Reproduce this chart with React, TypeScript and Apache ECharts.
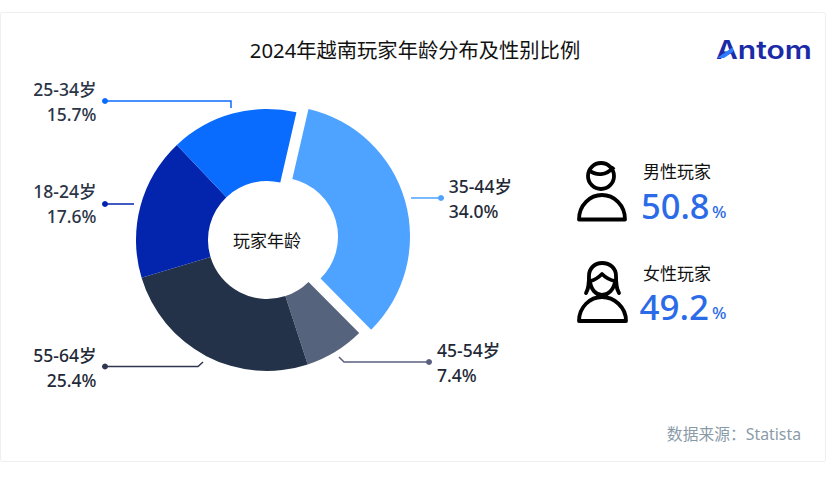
import React, { useEffect, useRef } from "react";
import * as echarts from "echarts";

const categories = ["35-44岁", "45-54岁", "55-64岁", "18-24岁", "25-34岁"];
const shares = [34.0, 7.4, 25.4, 17.6, 15.7];
const sliceColors = ["#4DA3FF", "#56637C", "#233249", "#0325AE", "#0A6CFF"];
const lineColors = ["#4DA3FF", "#5A5F80", "#30364F", "#0325AE", "#0A6CFF"];
const labelColors = ["#1F2937", "#1F2937", "#1F2937", "#2A3446", "#2A3446"];
const labelSpots = [
  { x: 449, y: 199, align: "left" },
  { x: 437, y: 362, align: "left" },
  { x: 96.5, y: 367, align: "right" },
  { x: 96.5, y: 203, align: "right" },
  { x: 96.5, y: 101, align: "right" },
];
const linePaths = [
  [[411, 198], [426, 198], [441, 198]],
  [[339, 357], [344, 362], [429, 362]],
  [[203, 362], [198, 366.5], [105, 366.5]],
  [[134, 204], [120, 204], [105, 204]],
  [[231, 108], [231, 101], [105, 101]],
];
const lineShift = [[-12, 3.4], [0, 0], [0, 0], [0, 0], [0, 0]];
const genderNames = ["男性玩家", "女性玩家"];
const genderShares = ["50.8", "49.2"];

const MALE_ICON =
  "M588 176a13 13 0 1 0 26 0a13 13 0 1 0 -26 0 M589 170C596 176 606 176 614 167 M579 219.5C579 205 590 195 602 195C614 195 625 205 625 219.5Z";
const FEMALE_ICON =
  "M586 293C589 288 589 283 589 276C589 268 595 263 602 263C610 263 616 268 616 276C616 283 616 288 619 293 M590 281C596 280 599 277 602 274C605 277 609 280 615 281 M590 281C591 290 596 295 602 295C608 295 614 290 615 281 M579 321C579 307 590 297 602 297C614 297 626 307 626 321Z";
const LOGO_ACCENT = "M717 58L733 47L733 52L724 58Z";

echarts.graphic.registerShape("maleIcon", echarts.graphic.extendPath(MALE_ICON, {}) as any);
echarts.graphic.registerShape("femaleIcon", echarts.graphic.extendPath(FEMALE_ICON, {}) as any);
echarts.graphic.registerShape("logoAccent", echarts.graphic.extendPath(LOGO_ACCENT, {}) as any);

const FONT = '"Noto Sans", "Noto Sans CJK SC", sans-serif';

export default function App() {
  const ref = useRef<HTMLDivElement>(null);
  useEffect(() => {
    const chart = echarts.init(ref.current!, null, { renderer: "svg" });
    const texts: any[] = [];
    genderNames.forEach((n, i) => {
      const top = i === 0 ? 0 : 102;
      texts.push({
        type: "text",
        style: { x: 643, y: 171 + top, text: n, font: `400 17px ${FONT}`, fill: "#111", textVerticalAlign: "middle" },
      });
      texts.push({
        type: "text",
        style: {
          x: i === 0 ? 641 : 639.5,
          y: 205 + top - (i === 0 ? 0 : 1),
          text: genderShares[i],
          font: `500 ${i === 0 ? 34.5 : 35}px ${FONT}`,
          fill: "#2B6BE8",
          textVerticalAlign: "middle",
        },
      });
      texts.push({
        type: "text",
        style: { x: 712, y: 211 + top - (i === 0 ? 0 : 1), text: "%", font: `500 17px ${FONT}`, fill: "#2B6BE8", textVerticalAlign: "middle" },
      });
    });
    chart.setOption({
      animation: false,
      backgroundColor: "#fff",
      title: {
        text: "2024年越南玩家年龄分布及性别比例",
        left: 410,
        top: 35,
        textAlign: "center",
        textStyle: { fontFamily: FONT, fontSize: 20.3, fontWeight: 400, color: "#111" },
      },
      graphic: [
        { type: "rect", shape: { x: 0.5, y: 12.5, width: 825, height: 449, r: 2 }, style: { fill: "none", stroke: "#ECEEF0", lineWidth: 1 }, z: 0 },
        { type: "text", style: { x: 267, y: 240, text: "玩家年龄", font: `400 17px ${FONT}`, fill: "#111", textAlign: "center", textVerticalAlign: "middle" } },
        { type: "text", style: { x: 801, y: 434, text: "数据来源\uFF1AStatista", font: `400 15.8px ${FONT}`, fill: "#8A9BA8", textAlign: "right", textVerticalAlign: "middle" } },
        { type: "text", x: 716, y: 50, scaleX: 1.2, style: { x: 0, y: 0, text: "Antom", font: `600 25px Inter, ${FONT}`, fill: "#1B2AA6", textVerticalAlign: "middle" } },
        { type: "logoAccent", style: { fill: "#2F7BFF" }, z: 5 },
        { type: "maleIcon", style: { fill: "none", stroke: "#000", lineWidth: 3.8, lineJoin: "round" } },
        { type: "femaleIcon", style: { fill: "none", stroke: "#000", lineWidth: 3.8, lineJoin: "round", lineCap: "round" } },
        ...texts,
        ...linePaths.map((p, i) => ({
          type: "circle",
          shape: { cx: p[2][0], cy: p[2][1], r: 3 },
          style: { fill: lineColors[i] },
          z: 10,
        })),
      ],
      series: [
        {
          type: "pie",
          center: [267, 240],
          radius: [59, 131],
          startAngle: 77,
          clockwise: true,
          selectedMode: "multiple",
          selectedOffset: 12.5,
          silent: true,
          avoidLabelOverlap: false,
          data: categories.map((name, i) => ({
            name,
            value: shares[i],
            selected: i === 0,
            itemStyle: { color: sliceColors[i] },
            label: { color: labelColors[i], align: labelSpots[i].align },
            labelLine: { length: i === 0 ? 8 : 15, length2: i === 0 ? 31 : 15, lineStyle: { color: lineColors[i], width: 1.5 } },
          })),
          label: {
            show: true,
            position: "outside",
            fontFamily: FONT,
            fontSize: 17.5,
            fontWeight: 500,
            lineHeight: 25,
            formatter: (p: any) => `${p.name}\n${p.value.toFixed(1)}%`,
          },
          labelLine: { show: true, smooth: false },
          labelLayout: (p: any) => ({
            x: labelSpots[p.dataIndex].x,
            y: labelSpots[p.dataIndex].y,
            align: labelSpots[p.dataIndex].align,
            verticalAlign: "middle",
            labelLinePoints: linePaths[p.dataIndex].map((q) => [q[0] + lineShift[p.dataIndex][0], q[1] + lineShift[p.dataIndex][1]]),
          }),
        },
      ],
    });
    return () => chart.dispose();
  }, []);
  return <div ref={ref} style={{ position: "fixed", left: 0, top: 0, width: 828, height: 480 }} />;
}
